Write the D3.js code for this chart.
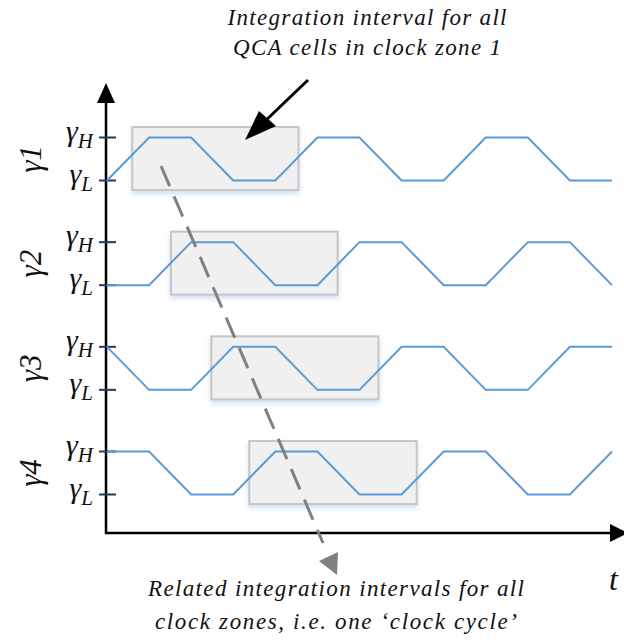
<!DOCTYPE html>
<html>
<head>
<meta charset="utf-8">
<script src="https://cdn.jsdelivr.net/npm/d3@7"></script>
<style>
  body { margin: 0; background: #fff; }
</style>
</head>
<body>
<div id="chart"></div>
<script>
// Clock zones and their signal level at each phase step (0 = gamma L, 1 = gamma H)
var zones = ["1", "2", "3", "4"];
var steps = [0, 1, 2, 3, 4, 5, 6, 7, 8, 9, 10, 11, 12];
var zone1 = [0, 1, 1, 0, 0, 1, 1, 0, 0, 1, 1, 0, 0];
var zone2 = [0, 0, 1, 1, 0, 0, 1, 1, 0, 0, 1, 1, 0];
var zone3 = [1, 0, 0, 1, 1, 0, 0, 1, 1, 0, 0, 1, 1];
var zone4 = [1, 1, 0, 0, 1, 1, 0, 0, 1, 1, 0, 0, 1];
var levelLabels = ["L", "H"];

// Integration intervals (in phase steps) for each zone
var intervalStart = [0.6, 1.52, 2.48, 3.38];
var intervalEnd = [4.55, 5.48, 6.45, 7.36];

var topNote = ["Integration interval for all", "QCA cells in clock zone 1"];
var bottomNote = ["Related integration intervals for all", "clock zones, i.e. one \u2018clock cycle\u2019"];

var svgWidth = 624;
var svgHeight = 640;
var serif = '"Liberation Serif"';

var svg = d3.select("#chart")
  .append("svg")
  .attr("width", svgWidth)
  .attr("height", svgHeight);

// serif italic text helper
function label(sel, size) {
  return sel
    .style("font-family", serif)
    .style("font-style", "italic")
    .style("font-size", size + "px")
    .attr("fill", "#111");
}

var defs = svg.append("defs");
defs.append("filter")
  .attr("id", "shadow")
  .attr("x", "-10%").attr("y", "-20%")
  .attr("width", "120%").attr("height", "150%")
  .append("feDropShadow")
  .attr("dx", 0).attr("dy", 3)
  .attr("stdDeviation", 2.5)
  .attr("flood-color", "#9dc3e6")
  .attr("flood-opacity", 0.5);

// scales
var xScale = d3.scaleLinear().domain([0, 12]).range([107, 612]);
var rowScale = d3.scalePoint().domain(zones).range([159, 473]);
var levelScale = d3.scaleLinear().domain([0, 1]).range([21.5, -21.5]);

var axisX = 106, axisY = 533;

var series = [zone1, zone2, zone3, zone4];

// integration boxes
svg.append("g").selectAll("rect")
  .data(zones)
  .enter()
  .append("rect")
  .attr("x", (d, i) => xScale(intervalStart[i]))
  .attr("width", (d, i) => xScale(intervalEnd[i]) - xScale(intervalStart[i]))
  .attr("y", d => rowScale(d) - 32)
  .attr("height", 63)
  .attr("fill", "#f0f0f0")
  .attr("stroke", "#c6c6c6")
  .attr("stroke-width", 2)
  .attr("filter", "url(#shadow)");

// axes
svg.append("line")
  .attr("x1", axisX).attr("x2", axisX)
  .attr("y1", axisY + 1).attr("y2", 98)
  .attr("stroke", "#000").attr("stroke-width", 2.5);
svg.append("path")
  .attr("d", `M${axisX},83 L${axisX - 9},103 L${axisX + 9},103 Z`)
  .attr("fill", "#000");
svg.append("line")
  .attr("x1", axisX - 1).attr("x2", 612)
  .attr("y1", axisY).attr("y2", axisY)
  .attr("stroke", "#000").attr("stroke-width", 2.5);
svg.append("path")
  .attr("d", `M628,${axisY} L610,${axisY - 9} L610,${axisY + 9} Z`)
  .attr("fill", "#000");

label(svg.append("text"), 32)
  .attr("x", 609)
  .attr("y", 590)
  .text("t");

// ticks and level labels for each zone
zones.forEach(function(z, i) {
  levelLabels.forEach(function(lab, k) {
    var y = rowScale(z) + levelScale(k);
    svg.append("line")
      .attr("x1", 99).attr("x2", 116)
      .attr("y1", y).attr("y2", y)
      .attr("stroke", "#1f3864").attr("stroke-width", 2);
    var t = label(svg.append("text"), 30)
      .attr("x", 93)
      .attr("y", y + 3)
      .attr("text-anchor", "end");
    t.append("tspan").text("\u03b3");
    t.append("tspan")
      .attr("dy", 7)
      .style("font-size", "21px")
      .text(lab);
  });

  label(svg.append("text"), 31)
    .attr("transform", `translate(41, ${rowScale(z)}) rotate(-90)`)
    .attr("text-anchor", "middle")
    .text("\u03b3" + z);
});

// clock signals
var line = d3.line()
  .x(d => xScale(d[0]))
  .y(d => d[1]);

svg.append("g").selectAll("path")
  .data(series)
  .enter()
  .append("path")
  .attr("d", (vals, i) => line(steps.map((s, j) => [s, rowScale(zones[i]) + levelScale(vals[j])])))
  .attr("fill", "none")
  .attr("stroke", "#5b9bd5")
  .attr("stroke-width", 2);

// dashed gray arrow across zones
svg.append("line")
  .attr("x1", 161).attr("y1", 166)
  .attr("x2", 323).attr("y2", 543)
  .attr("stroke", "#808080")
  .attr("stroke-width", 3)
  .attr("stroke-dasharray", "22,11");
svg.append("path")
  .attr("d", "M337,575 L319,561 L338,552 Z")
  .attr("fill", "#808080");

// black annotation arrow
svg.append("line")
  .attr("x1", 308).attr("y1", 80)
  .attr("x2", 262).attr("y2", 124)
  .attr("stroke", "#000").attr("stroke-width", 3);
svg.append("path")
  .attr("d", "M245,140 L259,111 L276,126 Z")
  .attr("fill", "#000");

// notes
label(svg.append("g").selectAll("text")
  .data(topNote)
  .enter()
  .append("text"), 23)
  .attr("x", 367)
  .attr("y", (d, i) => 25 + i * 30)
  .attr("text-anchor", "middle")
  .attr("textLength", (d, i) => [279, 268][i])
  .attr("lengthAdjust", "spacing")
  .text(d => d);

label(svg.append("g").selectAll("text")
  .data(bottomNote)
  .enter()
  .append("text"), 23)
  .attr("x", 336)
  .attr("y", (d, i) => 596 + i * 33)
  .attr("text-anchor", "middle")
  .attr("textLength", (d, i) => [376, 362][i])
  .attr("lengthAdjust", "spacing")
  .text(d => d);
</script>
</body>
</html>
